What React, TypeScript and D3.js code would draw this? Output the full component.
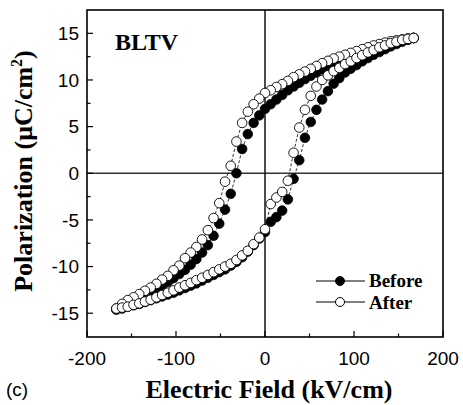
import React from 'react';
import * as d3 from 'd3';

// Electric field steps of the descending branch (kV/cm)
const fieldDown = [
  167, 160.6, 154.2, 147.7, 141.3, 134.9, 128.5, 122.0, 115.6, 109.2,
  102.8, 96.3, 89.9, 83.5, 77.1, 70.7, 64.2, 57.8, 51.4, 44.9,
  38.5, 32.1, 25.7, 19.3, 12.8, 6.4, 0,
  -6.4, -12.8, -19.3, -25.7, -32.1, -38.5, -44.9, -51.4, -57.8, -64.2,
  -70.7, -77.1, -83.5, -89.9, -96.3, -102.8, -109.2, -115.6, -122.0, -128.5,
  -134.9, -141.3, -147.7, -154.2, -160.6, -167,
];
const fieldUp = [...fieldDown].reverse();

// Polarization (uC/cm2)
const beforeDown = [
  14.5, 14.4, 14.25, 14.1, 13.95, 13.8, 13.6, 13.4, 13.2, 13.0,
  12.75, 12.5, 12.25, 12.0, 11.75, 11.45, 11.15, 10.8, 10.45, 10.1,
  9.7, 9.3, 8.9, 8.4, 7.9, 7.4, 6.9,
  6.2, 5.4, 4.2, 2.6, 0.0, -2.2, -3.9, -5.4, -6.7, -7.7,
  -8.5, -9.2, -9.8, -10.35, -10.8, -11.25, -11.65, -12.05, -12.4, -12.75,
  -13.1, -13.4, -13.7, -14.0, -14.3, -14.6,
];
const beforeUp = [
  -14.6, -14.5, -14.3, -14.15, -14.0, -13.8, -13.6, -13.4, -13.2, -13.0,
  -12.8, -12.55, -12.3, -12.05, -11.8, -11.5, -11.2, -10.9, -10.6, -10.3,
  -9.9, -9.5, -9.0, -8.4, -7.7, -7.0, -6.3,
  -5.2, -4.7, -4.0, -2.8, -0.6, 1.4, 3.8, 5.5, 6.8, 7.9,
  8.8, 9.6, 10.2, 10.8, 11.2, 11.6, 12.0, 12.35, 12.7, 13.0,
  13.3, 13.6, 13.85, 14.1, 14.3, 14.5,
];
const afterDown = [
  14.5, 14.45, 14.35, 14.25, 14.15, 14.0, 13.85, 13.7, 13.5, 13.3,
  13.1, 12.9, 12.7, 12.5, 12.3, 12.05, 11.8, 11.5, 11.2, 10.9,
  10.6, 10.3, 9.9, 9.55, 9.25, 8.9, 8.6,
  8.0, 7.4, 6.6, 5.4, 3.4, 0.8, -0.9, -3.2, -4.8, -6.1,
  -7.1, -7.9, -8.5, -9.1, -9.9, -10.4, -11.0, -11.4, -11.85, -12.25,
  -12.6, -12.95, -13.3, -13.6, -14.0, -14.5,
];
const afterUp = [
  -14.5, -14.4, -14.3, -14.1, -13.95, -13.75, -13.55, -13.3, -13.05, -12.8,
  -12.55, -12.25, -12.0, -11.75, -11.45, -11.2, -10.9, -10.6, -10.3, -10.0,
  -9.7, -9.3, -8.8, -8.3, -7.6, -6.9, -6.0,
  -3.3, -2.6, -2.0, -0.8, 2.2, 4.9, 6.8, 8.3, 9.3, 10.0,
  10.5, 10.95, 11.3, 11.7, 12.0, 12.35, 12.65, 12.95, 13.2, 13.5,
  13.7, 13.95, 14.1, 14.3, 14.4, 14.5,
];

const xTicks = [-200, -100, 0, 100, 200];
const xMinor = [-150, -50, 50, 150];
const yTicks = [-15, -10, -5, 0, 5, 10, 15];
const yMinor = [-12.5, -7.5, -2.5, 2.5, 7.5, 12.5];

interface Pt { e: number; p: number; }

const toPoints = (fd: number[], pd: number[], fu: number[], pu: number[]): Pt[] =>
  fd.map((e, i) => ({ e, p: pd[i] })).concat(fu.map((e, i) => ({ e, p: pu[i] })));

const before = toPoints(fieldDown, beforeDown, fieldUp, beforeUp);
const after = toPoints(fieldDown, afterDown, fieldUp, afterUp);

const W = 463;
const H = 405;
const left = 87, right = 443, top = 10, bottom = 337;

const App: React.FC = () => {
  const x = d3.scaleLinear().domain([-200, 200]).range([left, right]);
  const y = d3.scaleLinear().domain([-17.55, 17.5]).range([bottom, top]);
  const line = d3.line<Pt>().x((d) => x(d.e)).y((d) => y(d.p));
  const sans = 'Arial, "Liberation Sans", sans-serif';
  const serif = '"Times New Roman", "Liberation Serif", serif';

  return (
    <svg width={W} height={H} style={{ position: 'absolute', left: 0, top: 0, background: '#fff' }}>
      <rect x={0} y={0} width={W} height={H} fill="#fff" />
      {/* zero lines */}
      <line x1={left} x2={right} y1={y(0)} y2={y(0)} stroke="#333" strokeWidth={1.5} />
      <line x1={x(0)} x2={x(0)} y1={top} y2={bottom} stroke="#111" strokeWidth={1.5} />

      {/* ticks */}
      {xTicks.map((t) => (
        <g key={'xt' + t}>
          <line x1={x(t)} x2={x(t)} y1={bottom} y2={bottom - 6} stroke="#000" strokeWidth={1.2} />
          <text x={x(t)} y={365} textAnchor="middle" fontFamily={sans} fontSize={19}>{t}</text>
        </g>
      ))}
      {xMinor.map((t) => (
        <line key={'xm' + t} x1={x(t)} x2={x(t)} y1={bottom} y2={bottom - 3.5} stroke="#000" strokeWidth={1.2} />
      ))}
      {yTicks.map((t) => (
        <g key={'yt' + t}>
          <line x1={left} x2={left + 6} y1={y(t)} y2={y(t)} stroke="#000" strokeWidth={1.2} />
          <text x={79} y={y(t)} dy="0.36em" textAnchor="end" fontFamily={sans} fontSize={19}>{t}</text>
        </g>
      ))}
      {yMinor.map((t) => (
        <line key={'ym' + t} x1={left} x2={left + 3.5} y1={y(t)} y2={y(t)} stroke="#000" strokeWidth={1.2} />
      ))}

      {/* series */}
      <path d={line(before) ?? ''} fill="none" stroke="#000" strokeWidth={0.8} strokeDasharray="3,2" />
      {before.map((d, i) => (
        <circle key={'b' + i} cx={x(d.e)} cy={y(d.p)} r={4.8} fill="#000" stroke="#000" strokeWidth={0.8} />
      ))}
      <path d={line(after) ?? ''} fill="none" stroke="#000" strokeWidth={0.8} strokeDasharray="3,2" />
      {after.map((d, i) => (
        <circle key={'a' + i} cx={x(d.e)} cy={y(d.p)} r={4.8} fill="#fff" stroke="#000" strokeWidth={0.9} />
      ))}

      {/* frame */}
      <rect x={left} y={top} width={right - left} height={bottom - top} fill="none" stroke="#000" strokeWidth={1.6} />

      <text x={115} y={50} fontFamily={serif} fontWeight="bold" fontSize={24}>BLTV</text>

      {/* legend */}
      <line x1={316} x2={365} y1={281} y2={281} stroke="#000" strokeWidth={1} />
      <circle cx={340} cy={281} r={4.5} fill="#000" stroke="#000" />
      <text x={369} y={287} fontFamily={serif} fontWeight="bold" fontSize={19}>Before</text>
      <line x1={316} x2={365} y1={302} y2={302} stroke="#000" strokeWidth={1} />
      <circle cx={340} cy={302} r={4.5} fill="#fff" stroke="#000" />
      <text x={369} y={309} fontFamily={serif} fontWeight="bold" fontSize={19}>After</text>

      {/* axis titles */}
      <text x={269} y={398} textAnchor="middle" fontFamily={serif} fontWeight="bold" fontSize={26}>
        Electric Field (kV/cm)
      </text>
      <text transform="translate(32,171) rotate(-90)" textAnchor="middle" fontFamily={serif} fontWeight="bold" fontSize={26}>
        Polarization (μC/cm<tspan dy="-10" fontSize={16}>2</tspan><tspan dy="10">)</tspan>
      </text>
      <text x={6} y={396} fontFamily={sans} fontSize={19}>(c)</text>
    </svg>
  );
};

export default App;
